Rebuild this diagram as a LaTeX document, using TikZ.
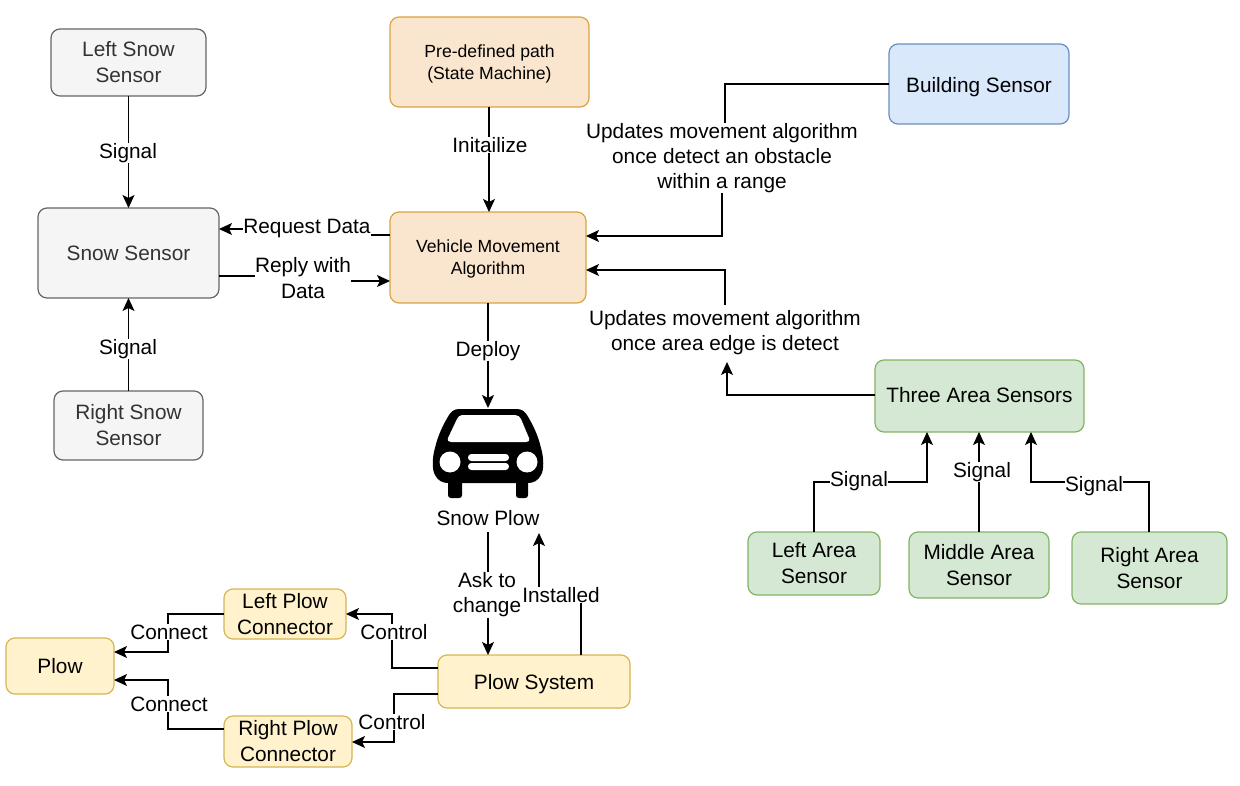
\documentclass[tikz,border=0pt]{standalone}
\usepackage{fontspec}
\setmainfont{Liberation Sans}
\usetikzlibrary{arrows.meta}
\definecolor{grayF}{HTML}{F5F5F5}\definecolor{grayS}{HTML}{666666}\definecolor{grayT}{HTML}{333333}
\definecolor{orF}{HTML}{FAE5CF}\definecolor{orS}{HTML}{D9A441}
\definecolor{blF}{HTML}{DAE8FC}\definecolor{blS}{HTML}{6C8EBF}
\definecolor{grF}{HTML}{D5E8D4}\definecolor{grS}{HTML}{82B366}
\definecolor{yeF}{HTML}{FFF2CC}\definecolor{yeS}{HTML}{D6B656}
\newcommand{\bx}[7]{%
 \pgfmathsetmacro{\bxcx}{(#2+#4)/2}\pgfmathsetmacro{\bxcy}{(#3+#5)/2}%
 \pgfmathsetmacro{\bxw}{#4-#2}\pgfmathsetmacro{\bxh}{#5-#3}%
 \node[box,#6,minimum width=\bxw pt,minimum height=\bxh pt] (#1) at (\bxcx,\bxcy) {#7};}
\newcommand{\shifttext}[2]{\raisebox{#1}[\height][\depth]{#2}}
\tikzset{
 box/.style={draw,rounded corners=9pt,inner sep=0pt,outer sep=0pt,line width=1.2pt,align=center,font=\fontsize{20.8}{26}\selectfont},
 graybox/.style={fill=grayF,draw=grayS,text=grayT},
 orbox/.style={fill=orF,draw=orS,font=\fontsize{17.6}{22}\selectfont},
 blbox/.style={fill=blF,draw=blS},
 grbox/.style={fill=grF,draw=grS},
 yebox/.style={fill=yeF,draw=yeS},
 lbl/.style={fill=white,inner sep=0.5pt,align=center,font=\fontsize{20.8}{25.2}\selectfont},
 conn/.style={line width=1.2pt,black,-{Stealth[length=13pt,width=12pt,inset=3pt]}},
}
\begin{document}
\begin{tikzpicture}[x=1pt,y=-1pt]
\useasboundingbox (0,0) rectangle (1240,786);
% boxes
\bx{lss}{51}{29}{206}{96}{graybox}{Left Snow\\Sensor}
\bx{ss}{38}{208}{219}{298}{graybox}{Snow Sensor}
\bx{rss}{54}{391}{203}{460}{graybox}{Right Snow\\Sensor}
\bx{pre}{390}{17}{589}{107}{orbox}{\shifttext{-2pt}{Pre-defined path}\\ \shifttext{-2pt}{(State Machine)}}
\bx{veh}{390}{212}{586}{303}{orbox}{\shifttext{-1pt}{Vehicle Movement}\\\shifttext{-1pt}{Algorithm}}
\bx{bld}{889}{44}{1069}{124}{blbox}{\shifttext{-3pt}{Building Sensor}}
\bx{three}{875}{360}{1084}{432}{grbox}{\shifttext{1pt}{Three Area Sensors}}
\bx{la}{748}{532}{880}{595}{grbox}{Left Area\\Sensor}
\bx{ma}{909}{532}{1049}{598}{grbox}{Middle Area\\Sensor}
\bx{ra}{1072}{532}{1227}{604}{grbox}{Right Area\\Sensor}
\bx{ps}{438}{655}{630}{708}{yebox}{\shifttext{-3pt}{Plow System}}
\bx{lpc}{224}{589}{346}{639}{yebox}{Left Plow\\Connector}
\bx{rpc}{224}{716}{352}{767}{yebox}{Right Plow\\Connector}
\bx{plow}{6}{638}{114}{694}{yebox}{Plow}
% car
\coordinate (car) at (488,408);
\fill[black] (460,409) -- (516,409) .. controls (522,409) and (524,411) .. (527,415)
 .. controls (533,425) and (538,435) .. (541,448) .. controls (544,458) and (544,470) .. (541,475)
 .. controls (538,481) and (533,483) .. (528,483) -- (528,495) .. controls (528,497) and (527,498) .. (525,498)
 -- (519,498) .. controls (517,498) and (516,497) .. (516,495) -- (516,483) -- (462,483) -- (462,495)
 .. controls (462,497) and (461,498) .. (459,498) -- (451,498) .. controls (449,498) and (448,497) .. (448,495)
 -- (448,483) .. controls (443,483) and (438,481) .. (435,475) .. controls (432,470) and (432,458) .. (435,448)
 .. controls (438,435) and (443,425) .. (449,415) .. controls (452,411) and (454,409) .. (460,409) -- cycle;
\fill[white] (462,415) -- (515,415) .. controls (518,415) and (520,417) .. (521,419) -- (529,438)
 .. controls (530,441) and (528,442) .. (526,442) -- (451,442) .. controls (449,442) and (447,441) .. (448,438)
 -- (457,419) .. controls (458,417) and (460,415) .. (462,415) -- cycle;
\fill[white] (450,462) circle (10.5) (527,462) circle (10.5);
\fill[white,rounded corners=3.4pt] (468,454) rectangle (509,461) (468,463) rectangle (509,470);
\node[lbl] (plowlbl) at (488,518) {Snow Plow};
\coordinate (instEnd) at (539,533);
% connectors
\draw[conn] (lss) -- (lss |- ss.north);
\draw[conn] (rss) -- (rss |- ss.south);
\draw[conn] (veh.west |- 0,235) -- (305,235) -- (305,229) -- (ss.east |- 0,229);
\draw[conn] (ss.east |- 0,276) -- (305,276) -- (305,281) -- (veh.west |- 0,281);
\draw[conn] (489,107) -- (489,212);
\draw[conn] (488,303) -- (car);
\draw[conn] (bld.west |- 0,84) -- (725,84) -- (725,150) -- (722,150) -- (722,236) -- (veh.east |- 0,236);
\node[lbl] (upb) at (722,158) {Updates movement algorithm\\once detect an obstacle\\within a range};
\node[lbl] (upa) at (725,333) {Updates movement algorithm\\once area edge is detect};
\draw[conn] (three.west |- 0,395) -- (727,395) -- (727,362);
\draw[conn] (725,305) -- (725,270) -- (veh.east |- 0,270);
\draw[conn] (814,532) -- (814,482) -- (927,482) -- (927,432);
\draw[conn] (979,532) -- (979,432);
\draw[conn] (1149,532) -- (1149,482) -- (1031,482) -- (1031,432);
\draw[conn] (488,532) -- (488,655);
\draw[conn] (581,655) -- (581,595) -- (539,595) -- (instEnd);
\draw[conn] (ps.west |- 0,668) -- (392,668) -- (392,614) -- (lpc.east |- 0,614);
\draw[conn] (ps.west |- 0,694) -- (394,694) -- (394,742) -- (rpc.east |- 0,742);
\draw[conn] (lpc.west |- 0,614) -- (168,614) -- (168,652) -- (plow.east |- 0,652);
\draw[conn] (rpc.west |- 0,729) -- (168,729) -- (168,680) -- (plow.east |- 0,680);
% labels
\node[lbl] (l1) at (128,153) {Signal};
\node[lbl] (l2) at (128,349) {Signal};
\node[lbl] (l3) at (307,229) {Request Data};
\node[lbl] (l4) at (303,278) {Reply with\\Data};
\node[lbl] (l5) at (490,145) {Initailize};
\node[lbl] (l6) at (488,351) {Deploy};
\node[lbl] (l7) at (859,481) {Signal};
\node[lbl] (l8) at (982,472) {Signal};
\node[lbl] (l9) at (1094,486) {Signal};
\node[lbl] (l10) at (561,595) {Installed};
\node[lbl] (l11) at (487,595) {Ask to\\change};
\node[lbl] (l12) at (394,632) {Control};
\node[lbl] (l13) at (392,722) {Control};
\node[lbl] (l14) at (169,632) {Connect};
\node[lbl] (l15) at (169,704) {Connect};
\end{tikzpicture}
\end{document}
